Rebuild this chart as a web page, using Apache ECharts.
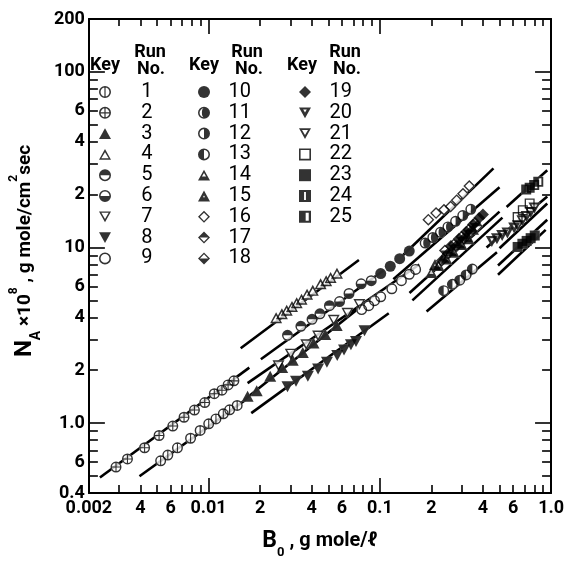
<!DOCTYPE html>
<html><head><meta charset="utf-8">
<script src="https://cdn.jsdelivr.net/npm/echarts@6/dist/echarts.min.js"></script>
<style>html,body{margin:0;padding:0;background:#fff}#c{width:567px;height:564px}</style>
</head><body><div id="c"></div>
<script>
// ---------- tick labels ----------
const xTickValues = [0.002,0.004,0.006,0.01,0.02,0.04,0.06,0.1,0.2,0.4,0.6,1];
const xTickLabels = ['0.002','4','6','0.01','2','4','6','0.1','2','4','6','1.0'];
const xMajorTicks = [0.01,0.1];
const xMinorTicks = [0.003,0.004,0.005,0.006,0.007,0.008,0.009,0.02,0.03,0.04,0.05,0.06,0.07,0.08,0.09,0.2,0.3,0.4,0.5,0.6,0.7,0.8,0.9];
const yTickValues = [0.4,0.6,1,2,4,6,10,20,40,60,100,200];
const yTickLabels = ['0.4','6','1.0','2','4','6','10','2','4','6','100','200'];
const yMajorTicks = [1,10,100];
const yMinorTicks = [0.5,0.6,0.7,0.8,0.9,2,3,4,5,6,7,8,9,20,30,40,50,60,70,80,90];

// ---------- data: [B0 (g mole/l), NA x 1e8] ----------
const run1 = [[0.00525,0.61],[0.00578,0.658],[0.00658,0.723],[0.00785,0.82],[0.00893,0.908],[0.01002,0.991],[0.01104,1.057],[0.01219,1.13],[0.01327,1.19],[0.01469,1.26]];
const run2 = [[0.00288,0.562],[0.00336,0.625],[0.00423,0.724],[0.00514,0.85],[0.00618,0.962],[0.00719,1.08],[0.00827,1.187],[0.0095,1.31],[0.0108,1.47],[0.01197,1.54],[0.0130,1.65],[0.01406,1.74]];
const run3 = [[0.0169,1.42],[0.0191,1.53],[0.0229,1.85],[0.0269,2.07],[0.031,2.28],[0.0355,2.52],[0.041,2.86],[0.048,3.2],[0.056,3.6]];
const run4 = [[0.0248,3.98],[0.0268,4.19],[0.0286,4.39],[0.0307,4.61],[0.0327,4.85],[0.0349,5.08],[0.0376,5.42],[0.0406,5.70],[0.0451,6.21],[0.0486,6.47],[0.0516,6.75],[0.0562,7.13]];
const run5 = [[0.0289,3.16],[0.0346,3.56],[0.0402,3.90],[0.0447,4.19],[0.0508,4.66]];
const run6 = [[0.0582,4.92],[0.0661,5.47],[0.0778,6.21],[0.0891,6.47]];
const run7 = [[0.0256,2.12],[0.0302,2.47],[0.0372,2.79],[0.0436,3.13],[0.0538,3.85],[0.0647,4.22],[0.0760,4.73]];
const run8 = [[0.0289,1.61],[0.0324,1.73],[0.038,1.85],[0.0436,2.03],[0.0491,2.22],[0.0564,2.43],[0.0618,2.61],[0.0678,2.79],[0.0726,2.92],[0.0814,3.36]];
const run9 = [[0.0783,4.43],[0.0861,4.66],[0.0931,4.98],[0.1012,5.24],[0.1175,5.82],[0.1337,6.47],[0.1486,7.04],[0.1618,7.50]];
const run10 = [[0.1012,7.10],[0.1151,7.82],[0.1306,8.63],[0.1486,9.54]];
const run11 = [[0.184,10.6],[0.204,11.4],[0.226,12.2],[0.25,13.1]];
const run12 = [[0.277,14.1],[0.305,15.2],[0.34,16.5]];
const run13 = [[0.236,5.68],[0.2655,6.17],[0.293,6.51],[0.319,6.98],[0.347,7.54]];
const run14 = [[0.2,7.2],[0.22,7.9],[0.245,8.6],[0.27,9.4],[0.3,10.4],[0.33,11.2]];
const run15 = [[0.21,8.0],[0.235,8.8],[0.26,9.6],[0.29,10.6],[0.32,11.6],[0.35,12.7]];
const run16 = [[0.192,14.4],[0.213,15.7],[0.237,16.4],[0.259,17.1],[0.281,18.6],[0.306,20.2],[0.333,22.4]];
const run17 = [[0.23,8.4],[0.25,9.2],[0.28,10.2],[0.31,11.2],[0.34,12.3],[0.37,13.2]];
const run18 = [[0.24,9.6],[0.27,10.4],[0.3,11.5],[0.33,12.6],[0.36,13.8]];
const run19 = [[0.26,10.2],[0.29,11.2],[0.32,12.3],[0.35,13.5],[0.38,14.7],[0.4,15.4]];
const run20 = [[0.451,10.8],[0.483,11.2],[0.518,11.7],[0.556,12.1],[0.609,12.9]];
const run21 = [[0.64,13.3],[0.68,14.2],[0.72,15.0],[0.76,15.8],[0.8,16.8]];
const run22 = [[0.638,14.9],[0.684,16.3],[0.75,17.8]];
const run23 = [[0.638,10.07],[0.68,10.5],[0.72,10.9],[0.76,11.3],[0.803,11.7]];
const run24 = [[0.716,21.4],[0.75,21.9]];
const run25 = [[0.797,22.7],[0.842,23.7]];

// fitted lines: [x0, y0, x1, y1]
const fitLines = [
  [0.00232,0.49,0.0173,2.07],
  [0.00395,0.498,0.0165,1.36],
  [0.0154,2.67,0.0755,8.49],
  [0.01775,1.14,0.1128,4.22],
  [0.0202,2.31,0.105,7.4],
  [0.0169,1.69,0.17,8.0],
  [0.0162,1.36,0.075,4.5],
  [0.12,6.6,0.5,22],
  [0.1355,8.98,0.461,28.2],
  [0.1875,4.32,0.483,9.4],
  [0.149,5.5,0.5,16],
  [0.155,5.0,0.52,14.8],
  [0.42,10.0,0.95,19.5],
  [0.49,7.0,0.93,12.6],
  [0.49,7.9,0.95,14.4],
  [0.50,9.9,0.95,17.8],
  [0.55,17.0,0.95,27.5]
];

// ---------- marker shapes ----------
const C_OUT = 'M0,10A10,10 0 1,0 20,10A10,10 0 1,0 0,10Z';
const C_IN = 'M2.6,10A7.4,7.4 0 1,1 17.4,10A7.4,7.4 0 1,1 2.6,10Z';
const RING = C_OUT + C_IN;
const T_UP = 'M10,0L0,18L20,18Z';
const T_DN = 'M0,0L10,18L20,0Z';
const DIA = 'M10,0L0,10L10,20L20,10Z';
const SQ = 'M0,0V18H18V0Z';
const shapes = {
  vbar:  {out:C_OUT, full:RING+'M9,1V19H11V1Z', size:11},
  cross: {out:C_OUT, full:RING+'M9,1V19H11V1Z'+'M1,9V11H19V9Z', size:11},
  ring:  {out:C_OUT, full:RING, size:11},
  disc:  {out:C_OUT, full:C_OUT, size:11},
  halfT: {out:C_OUT, full:RING+'M17.4,10A7.4,7.4 0 0,0 2.6,10Z', size:11},
  halfB: {out:C_OUT, full:RING+'M2.6,10A7.4,7.4 0 0,0 17.4,10Z', size:11},
  halfL: {out:C_OUT, full:RING+'M10,2.6A7.4,7.4 0 0,0 10,17.4Z', size:11},
  halfR: {out:C_OUT, full:RING+'M10,17.4A7.4,7.4 0 0,0 10,2.6Z', size:11},
  cresc: {out:C_OUT, full:C_OUT+'M10,17.4A7.4,7.4 0 0,1 10,2.6A3.5,7.4 0 0,0 10,17.4Z', size:11},
  triUp: {out:T_UP, full:T_UP+'M10,5.4L16.1,15.6L3.9,15.6Z', size:[12,11]},
  triUpF:{out:T_UP, full:T_UP, size:[12,11]},
  triUpH:{out:T_UP, full:T_UP+'M10,5.4L13.4,11.2L6.6,11.2Z', size:[12,11]},
  triUpS:{out:T_UP, full:T_UP+'M10,8L11.8,11.2L8.2,11.2Z', size:[12,11]},
  triDn: {out:T_DN, full:T_DN+'M3.9,2.4L16.1,2.4L10,12.6Z', size:[12,11]},
  triDnF:{out:T_DN, full:T_DN, size:[12,11]},
  triDnS:{out:T_DN, full:T_DN+'M7,3.4L13,3.4L10,8.6Z', size:[12,11]},
  triDnT:{out:T_DN, full:T_DN+'M5,3.2L15,3.2L10,11.4Z', size:[12,11]},
  dia:   {out:DIA, full:DIA+'M10,3.2L16.8,10L10,16.8L3.2,10Z', size:12},
  diaT:  {out:DIA, full:DIA+'M3.2,10L16.8,10L10,16.8Z', size:12},
  diaB:  {out:DIA, full:DIA+'M10,3.2L16.8,10L3.2,10Z', size:12},
  diaF:  {out:DIA, full:DIA, size:12},
  sq:    {out:SQ, full:SQ+'M2.4,2.4H15.6V15.6H2.4Z', size:10},
  sqF:   {out:SQ, full:SQ, size:10},
  sqM:   {out:SQ, full:SQ+'M7.6,3H10.4V15H7.6Z', size:10},
  sqR:   {out:SQ, full:SQ+'M10,3H14.6V15H10Z', size:10}
};

const runs = [
  ['1',run1,'vbar'],['2',run2,'cross'],['3',run3,'triUpF'],['4',run4,'triUp'],
  ['5',run5,'halfT'],['6',run6,'halfB'],['7',run7,'triDn'],['8',run8,'triDnF'],['9',run9,'ring'],
  ['10',run10,'disc'],['11',run11,'cresc'],['12',run12,'halfR'],['13',run13,'halfL'],
  ['14',run14,'triUpH'],['15',run15,'triUpS'],['16',run16,'dia'],['17',run17,'diaT'],['18',run18,'diaB'],
  ['19',run19,'diaF'],['20',run20,'triDnS'],['21',run21,'triDnT'],['22',run22,'sq'],
  ['23',run23,'sqF'],['24',run24,'sqM'],['25',run25,'sqR']
];

const FONT = 'Roboto';
const series = [];
fitLines.forEach((l,i) => {
  series.push({type:'line', name:'fit'+i, data:[[l[0],l[1]],[l[2],l[3]]], showSymbol:false, silent:true,
    lineStyle:{color:'#000', width:2.6}, z:1, animation:false});
});
runs.forEach(r => {
  const s = shapes[r[2]];
  series.push({type:'scatter', name:'bg'+r[0], data:r[1], symbol:'path://'+s.out, symbolSize:s.size,
    itemStyle:{color:'#fff'}, silent:true, z:2, animation:false});
  series.push({type:'scatter', name:r[0], data:r[1], symbol:'path://'+s.full, symbolSize:s.size,
    itemStyle:{color:'#000'}, z:3, animation:false});
});

function labelFor(values, labels) {
  return function(v) {
    for (let i = 0; i < values.length; i++) {
      if (Math.abs(Math.log10(values[i]) - Math.log10(v)) < 1e-4) return labels[i];
    }
    return '';
  };
}

const tickStyle = {color:'#000', width:1.6};
function xAxisDef(pos, ticks, len, withLabels, withLine) {
  const a = {type:'log', logBase:10, min:0.002, max:1, position:pos, gridIndex:0,
    splitLine:{show:false}, minorTick:{show:false},
    axisLine:{show:withLine, lineStyle:{color:'#000', width:2}},
    axisTick:{show:true, inside:true, length:len, customValues:ticks, lineStyle:tickStyle},
    axisLabel:{show:withLabels}};
  if (withLabels) {
    a.axisLabel = {show:true, customValues:xTickValues, formatter:labelFor(xTickValues,xTickLabels),
      fontFamily:FONT, fontWeight:'bold', fontSize:18, color:'#000', margin:6};
    a.name = '{b|B}{s|0}{t| , g mole/ℓ}';
    a.nameLocation = 'middle';
    a.nameGap = 36;
    a.nameTextStyle = {color:'#000', rich:{
      b:{fontFamily:FONT, fontWeight:'bold', fontSize:23, color:'#000', lineHeight:24},
      s:{fontFamily:FONT, fontWeight:'bold', fontSize:13, color:'#000', verticalAlign:'bottom', padding:[0,0,-6,0]},
      t:{fontFamily:FONT, fontWeight:'bold', fontSize:20, color:'#000', lineHeight:24}}};
  }
  return a;
}
function yAxisDef(pos, ticks, len, withLabels, withLine) {
  const a = {type:'log', logBase:10, min:0.4, max:200, position:pos, gridIndex:0,
    splitLine:{show:false}, minorTick:{show:false},
    axisLine:{show:withLine, lineStyle:{color:'#000', width:2}},
    axisTick:{show:true, inside:true, length:len, customValues:ticks, lineStyle:tickStyle},
    axisLabel:{show:withLabels}};
  if (withLabels) {
    a.axisLabel = {show:true, customValues:yTickValues, formatter:labelFor(yTickValues,yTickLabels),
      fontFamily:FONT, fontWeight:'bold', fontSize:18, color:'#000', margin:4};
    a.name = '{n|N}{a|A}{t| ×10}{p|8}{t| , g mole/cm}{p|2}{t|sec}';
    a.nameLocation = 'middle';
    a.nameGap = 34;
    a.nameTextStyle = {color:'#000', padding:[0,0,0,10], rich:{
      n:{fontFamily:FONT, fontWeight:'bold', fontSize:24, color:'#000', lineHeight:26},
      a:{fontFamily:FONT, fontWeight:'bold', fontSize:14, color:'#000', verticalAlign:'bottom', padding:[0,0,-5,0]},
      t:{fontFamily:FONT, fontWeight:'bold', fontSize:19, color:'#000', lineHeight:26},
      p:{fontFamily:FONT, fontWeight:'bold', fontSize:12, color:'#000', verticalAlign:'top', padding:[-4,0,0,0]}}};
  }
  return a;
}

// legend: icon box starts at `left`; numbers right-aligned inside a fixed-width box
function legendDef(names, left, boxW) {
  return {data:names, orient:'vertical', left:left, top:82, padding:0, itemGap:0.8,
    itemWidth:12, itemHeight:12, selectedMode:false, align:'left',
    formatter: n => '{n|' + n + '}',
    textStyle:{rich:{n:{fontFamily:FONT, fontSize:20, color:'#000', width:boxW, align:'right', lineHeight:20}}}};
}

const headerStyle = {fontFamily:FONT, fontWeight:'bold', fontSize:18, fill:'#000', align:'center', verticalAlign:'middle'};
const headers = [
  [105,65,'Key'],[150,52,'Run'],[151,69,'No.'],
  [204,65,'Key'],[247,52,'Run'],[249,69,'No.'],
  [302,65,'Key'],[345,52,'Run'],[347,69,'No.']
];

const chart = echarts.init(document.getElementById('c'), null, {renderer:'canvas'});
chart.setOption({
  animation:false,
  backgroundColor:'#fff',
  grid:{left:66, right:14, top:19, bottom:53, containLabel:false},
  xAxis:[
    xAxisDef('bottom', xMajorTicks, 15, true, true),
    xAxisDef('bottom', xMinorTicks, 8, false, false),
    xAxisDef('top', xMajorTicks, 15, false, true),
    xAxisDef('top', xMinorTicks, 7, false, false)
  ],
  yAxis:[
    yAxisDef('left', yMajorTicks, 16, true, true),
    yAxisDef('left', yMinorTicks, 9, false, false),
    yAxisDef('right', yMajorTicks, 16, false, true),
    yAxisDef('right', yMinorTicks, 9, false, false)
  ],
  legend:[
    legendDef(['1','2','3','4','5','6','7','8','9'], 99, 36.6),
    legendDef(['10','11','12','13','14','15','16','17','18'], 198, 36),
    legendDef(['19','20','21','22','23','24','25'], 299, 36)
  ],
  graphic: headers.map(h => ({type:'text', x:h[0], y:h[1], style:Object.assign({text:h[2]}, headerStyle)})),
  series: series
});
</script></body></html>
